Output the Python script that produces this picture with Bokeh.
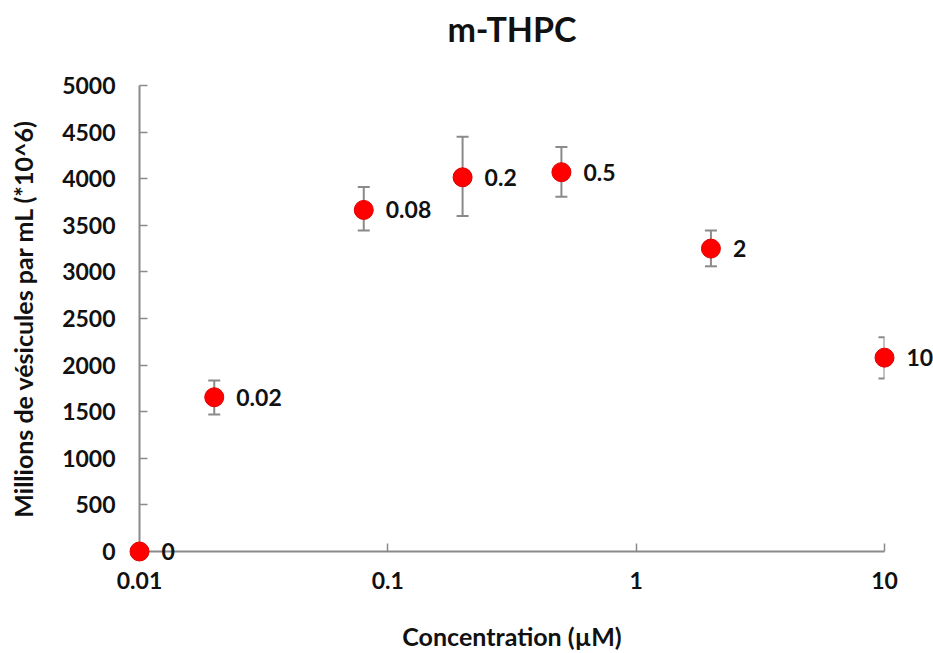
from bokeh.plotting import figure
from bokeh.models import ColumnDataSource, Range1d, FixedTicker, Whisker, TeeHead
from bokeh.core.properties import value
from bokeh.embed import file_html
from bokeh.resources import INLINE

# ---- data ----
concentrations = [0.0, 0.02, 0.08, 0.2, 0.5, 2.0, 10.0]
point_labels = ["0", "0.02", "0.08", "0.2", "0.5", "2", "10"]
vesicles = [0, 1655, 3665, 4015, 4070, 3250, 2080]
err_lower = [0, 1470, 3445, 3600, 3805, 3060, 1855]
err_upper = [0, 1835, 3910, 4450, 4340, 3445, 2300]
x_ticks = [0.01, 0.1, 1, 10]
x_tick_labels = ["0.01", "0.1", "1", "10"]
y_ticks = [0, 500, 1000, 1500, 2000, 2500, 3000, 3500, 4000, 4500, 5000]
chart_title = "m-THPC"

X_MIN, X_MAX = 0.01, 10
Y_MIN, Y_MAX = 0, 5000

FONT = "Lato"
AXIS_GRAY = "#8a8a8a"
TEXT = "#111111"
FS = "23px"
FS_LABEL = "25px"

# concentration 0 is shown at the origin of the log axis
x_plot = [c if c > 0 else X_MIN for c in concentrations]

src = ColumnDataSource(dict(x=x_plot, y=vesicles, label=point_labels))
err_idx = [i for i in range(len(vesicles)) if err_upper[i] > err_lower[i]]
err_src = ColumnDataSource(dict(
    x=[x_plot[i] for i in err_idx],
    lower=[err_lower[i] for i in err_idx],
    upper=[err_upper[i] for i in err_idx],
))

p = figure(
    x_axis_type="log",
    x_range=Range1d(X_MIN, X_MAX),
    y_range=Range1d(Y_MIN, Y_MAX),
    frame_width=745, frame_height=466,
    min_border_left=139, min_border_right=49,
    min_border_top=85, min_border_bottom=100,
    output_backend="svg", toolbar_location=None,
)
p.grid.visible = False
p.outline_line_color = None
p.background_fill_color = "white"
p.border_fill_color = "white"

for ax in (p.xaxis[0], p.yaxis[0]):
    ax.axis_line_color = AXIS_GRAY
    ax.axis_line_width = 2
    ax.major_tick_line_color = AXIS_GRAY
    ax.major_tick_line_width = 1.5
    ax.major_tick_in = 8
    ax.major_tick_out = 0
    ax.minor_tick_line_color = None
    ax.major_label_text_font = FONT
    ax.major_label_text_font_style = "bold"
    ax.major_label_text_font_size = FS
    ax.major_label_text_color = TEXT
    ax.axis_label_text_font = FONT
    ax.axis_label_text_font_style = "bold"
    ax.axis_label_text_font_size = FS_LABEL
    ax.axis_label_text_color = TEXT

p.xaxis.ticker = FixedTicker(ticks=x_ticks)
p.xaxis.major_label_overrides = {t: s for t, s in zip(x_ticks, x_tick_labels)}
p.xaxis.axis_label = "Concentration (µM)"
p.xaxis.major_label_standoff = 20
p.xaxis.axis_label_standoff = 29

p.yaxis.ticker = FixedTicker(ticks=y_ticks)
p.yaxis.axis_label = "Millions de vésicules par mL (*10^6)"
p.yaxis.major_label_standoff = 24
p.yaxis.axis_label_standoff = 21

# chart title, centred over the plot frame, above its top edge
p.text(x=[(X_MIN * X_MAX) ** 0.5], y=[Y_MAX], text=[chart_title], y_offset=-57,
       text_align="center", text_baseline="middle",
       text_font=value(FONT), text_font_style="bold", text_font_size="34px",
       text_color=TEXT, level="overlay")

# error bars
p.add_layout(Whisker(
    source=err_src, base="x", lower="lower", upper="upper", dimension="height",
    line_color=AXIS_GRAY, line_width=2,
    lower_head=TeeHead(size=12, line_color=AXIS_GRAY, line_width=2),
    upper_head=TeeHead(size=12, line_color=AXIS_GRAY, line_width=2),
))

# points (overlay level so the point on the axis origin is not clipped)
p.scatter("x", "y", source=src, size=19, fill_color="#ff0000",
          line_color="#e00000", line_width=1, level="overlay")

p.text("x", "y", text="label", source=src, x_offset=22, y_offset=0,
       text_baseline="middle", text_align="left",
       text_font=value(FONT), text_font_style="bold", text_font_size=FS,
       text_color=TEXT, level="overlay")

open("out.html", "w").write(file_html(p, INLINE))
